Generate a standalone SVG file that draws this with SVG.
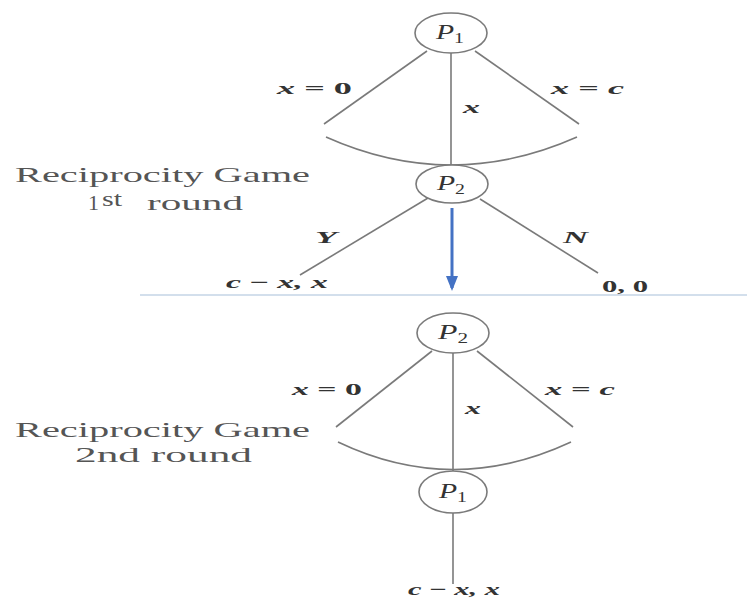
<svg xmlns="http://www.w3.org/2000/svg" width="747" height="598" viewBox="0 0 747 598">
<style>
.ln{stroke:#7a7a7a;stroke-width:1.6;fill:none}
.nd{stroke:#7a7a7a;stroke-width:1.6;fill:#fff}
.m{font-family:"Liberation Serif",serif;font-style:italic;font-weight:bold;font-size:17px;fill:#333}
.up{font-style:normal}
.pl{font-family:"Liberation Serif",serif;font-style:italic;font-size:21px;fill:#333}
.sub{font-style:normal;font-size:14px}
.tt{font-family:"Liberation Serif",serif;font-size:22px;fill:#555}
</style>
<defs>
<marker id="ah" markerWidth="5" markerHeight="4" refX="4" refY="2" orient="auto" markerUnits="strokeWidth">
<path d="M0,0 L5,2 L0,4 Z" fill="#4472c4"/>
</marker>
</defs>
<rect width="747" height="598" fill="#fff"/>
<g id="connectors">
<line class="ln" x1="427" y1="51" x2="324" y2="124"/>
<line class="ln" x1="475" y1="51" x2="579" y2="124"/>
<line class="ln" x1="451" y1="53" x2="451" y2="165"/>
<path class="ln" d="M326,137 Q451,193 577,137"/>
<line class="ln" x1="428" y1="198" x2="300" y2="275"/>
<line class="ln" x1="480" y1="199" x2="598" y2="273"/>
<line x1="452" y1="208" x2="452" y2="288" stroke="#4472c4" stroke-width="3" marker-end="url(#ah)"/>
<line x1="140" y1="295" x2="747" y2="295" stroke="#c5d4e6" stroke-width="1.5"/>
<line class="ln" x1="432" y1="351" x2="336" y2="427"/>
<line class="ln" x1="477" y1="351" x2="573" y2="427"/>
<line class="ln" x1="453" y1="353" x2="453" y2="471"/>
<path class="ln" d="M338,442 Q453,497 571,442"/>
<line class="ln" x1="453" y1="513" x2="453" y2="584"/>
</g>
<g id="labels">
<text class="m" x="277" y="94" textLength="75" lengthAdjust="spacingAndGlyphs">x <tspan class="up">= 0</tspan></text>
<text class="m" x="463" y="113" font-size="18" textLength="17" lengthAdjust="spacingAndGlyphs">x</text>
<text class="m" x="551" y="94" textLength="73" lengthAdjust="spacingAndGlyphs">x <tspan class="up">=</tspan> c</text>
<text class="m" x="315" y="243" textLength="22" lengthAdjust="spacingAndGlyphs">Y</text>
<text class="m" x="563" y="243" textLength="25" lengthAdjust="spacingAndGlyphs">N</text>
<text class="m" x="226" y="288" textLength="102" lengthAdjust="spacingAndGlyphs">c <tspan class="up">−</tspan> x, x</text>
<text class="m up" x="602" y="292" textLength="46" lengthAdjust="spacingAndGlyphs">0, 0</text>
<text class="m" x="292" y="395" textLength="70" lengthAdjust="spacingAndGlyphs">x <tspan class="up">= 0</tspan></text>
<text class="m" x="465" y="414" font-size="18" textLength="16" lengthAdjust="spacingAndGlyphs">x</text>
<text class="m" x="545" y="395" textLength="70" lengthAdjust="spacingAndGlyphs">x <tspan class="up">=</tspan> c</text>
<text class="m" x="408" y="595" font-size="15" textLength="92" lengthAdjust="spacingAndGlyphs">c <tspan class="up">−</tspan> x, x</text>
</g>
<g id="P1_top">
<ellipse class="nd" cx="451" cy="33" rx="36" ry="20"/>
<text class="pl" x="436" y="39" textLength="28" lengthAdjust="spacingAndGlyphs">P<tspan class="sub" dy="4">1</tspan></text>
</g>
<g id="P2_top">
<ellipse class="nd" cx="452" cy="184" rx="36" ry="19"/>
<text class="pl" x="437" y="190" textLength="28" lengthAdjust="spacingAndGlyphs">P<tspan class="sub" dy="4">2</tspan></text>
</g>
<g id="P2_bottom">
<ellipse class="nd" cx="453" cy="333" rx="36" ry="20"/>
<text class="pl" x="438" y="339" textLength="30" lengthAdjust="spacingAndGlyphs">P<tspan class="sub" dy="4">2</tspan></text>
</g>
<g id="P1_bottom">
<ellipse class="nd" cx="453" cy="492" rx="34" ry="21"/>
<text class="pl" x="439" y="498" textLength="28" lengthAdjust="spacingAndGlyphs">P<tspan class="sub" dy="4">1</tspan></text>
</g>
<g id="titles">
<text class="tt" x="15" y="182" textLength="295" lengthAdjust="spacingAndGlyphs">Reciprocity Game</text>
<text class="tt" x="88" y="210" textLength="11" lengthAdjust="spacingAndGlyphs">1</text>
<text class="tt" x="102" y="206" font-size="11" textLength="20" lengthAdjust="spacingAndGlyphs">st</text>
<text class="tt" x="147" y="210" textLength="96" lengthAdjust="spacingAndGlyphs">round</text>
<text class="tt" x="15" y="437" textLength="295" lengthAdjust="spacingAndGlyphs">Reciprocity Game</text>
<text class="tt" x="75" y="462" textLength="177" lengthAdjust="spacingAndGlyphs">2nd  round</text>
</g>
</svg>
